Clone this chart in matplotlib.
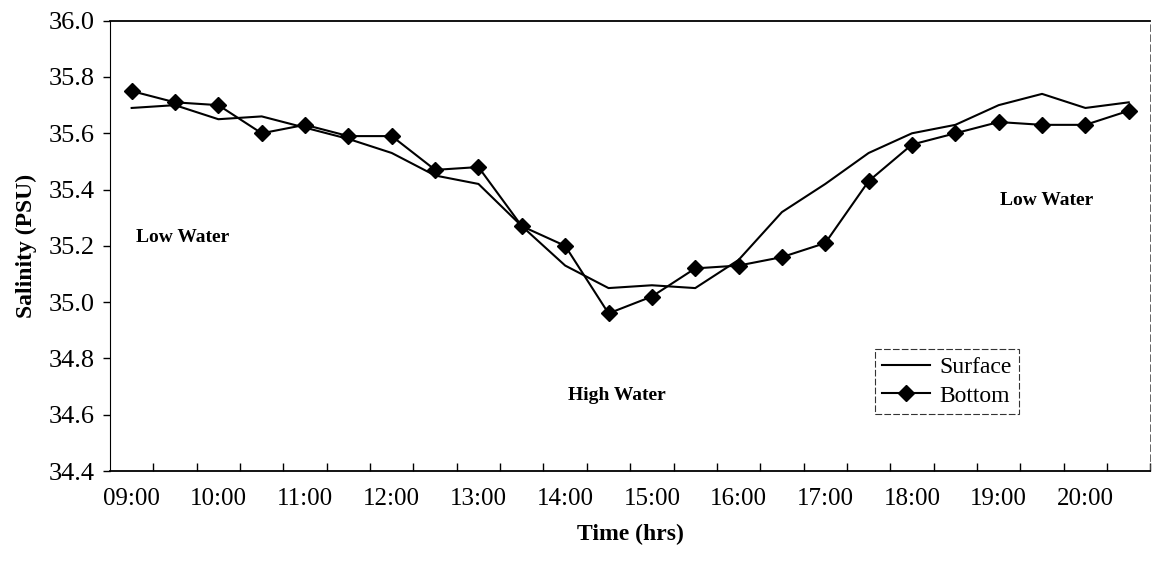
import numpy as np
import matplotlib
matplotlib.use('Agg')
from matplotlib import pyplot as plt

plt.rcParams['font.family'] = ['Liberation Serif', 'DejaVu Serif']

# half-hourly samples, 09:00 - 20:30
times = ['09:00', '09:30', '10:00', '10:30', '11:00', '11:30', '12:00', '12:30',
         '13:00', '13:30', '14:00', '14:30', '15:00', '15:30', '16:00', '16:30',
         '17:00', '17:30', '18:00', '18:30', '19:00', '19:30', '20:00', '20:30']

surface = [35.69, 35.70, 35.65, 35.66, 35.62, 35.58, 35.53, 35.45,
           35.42, 35.27, 35.13, 35.05, 35.06, 35.05, 35.15, 35.32,
           35.42, 35.53, 35.60, 35.63, 35.70, 35.74, 35.69, 35.71]

bottom = [35.75, 35.71, 35.70, 35.60, 35.63, 35.59, 35.59, 35.47,
          35.48, 35.27, 35.20, 34.96, 35.02, 35.12, 35.13, 35.16,
          35.21, 35.43, 35.56, 35.60, 35.64, 35.63, 35.63, 35.68]

yticks = [34.4, 34.6, 34.8, 35.0, 35.2, 35.4, 35.6, 35.8, 36.0]

x = np.arange(len(times))

fig = plt.figure(figsize=(11.54, 5.69), dpi=100)
ax = fig.add_axes([0.0953, 0.1722, 0.9016, 0.7914])

ax.plot(x, surface, color='black', lw=1.5, label='Surface')
ax.plot(x, bottom, color='black', lw=1.5, marker='D', ms=8, label='Bottom')

ax.set_xlim(-0.5, len(times) - 0.5)
ax.set_ylim(34.4, 36.0)

# labels on every hour, tick marks between categories
ax.set_xticks(x[::2])
ax.set_xticklabels(times[::2], fontsize=18)
ax.set_xticks(np.arange(len(times)) + 0.5, minor=True)
ax.tick_params(axis='x', which='major', length=0, pad=12)
ax.tick_params(axis='x', which='minor', direction='in', length=6, width=1)

ax.set_yticks(yticks)
ax.set_yticklabels(['%.1f' % v for v in yticks], fontsize=19)
ax.tick_params(axis='y', direction='out', length=5, width=1, pad=6)

for s in ['top', 'bottom']:
    ax.spines[s].set_linewidth(1.3)
ax.spines['left'].set_linewidth(0.8)
ax.spines['right'].set_linewidth(0.6)
ax.spines['right'].set_linestyle((0, (8, 4)))
ax.spines['right'].set_color('0.3')

ax.set_xlabel('Time (hrs)', fontsize=17, fontweight='bold', labelpad=10)
ax.set_ylabel('Salinity (PSU)', fontsize=17, fontweight='bold', labelpad=8)

ax.text(1.18, 35.23, 'Low Water', fontsize=14, fontweight='bold', ha='center', va='center')
ax.text(21.1, 35.36, 'Low Water', fontsize=14, fontweight='bold', ha='center', va='center')
ax.text(11.2, 34.67, 'High Water', fontsize=14, fontweight='bold', ha='center', va='center')

leg = ax.legend(loc='upper left', bbox_to_anchor=(0.7356, 0.2701), fontsize=17,
                frameon=True, fancybox=False, handlelength=2.0, handletextpad=0.4,
                borderpad=0.3, labelspacing=0.3, borderaxespad=0)
leg.get_frame().set_edgecolor('black')
leg.get_frame().set_linewidth(0.8)
leg.get_frame().set_linestyle((0, (6, 2)))

fig.savefig('out.png', dpi=100)
